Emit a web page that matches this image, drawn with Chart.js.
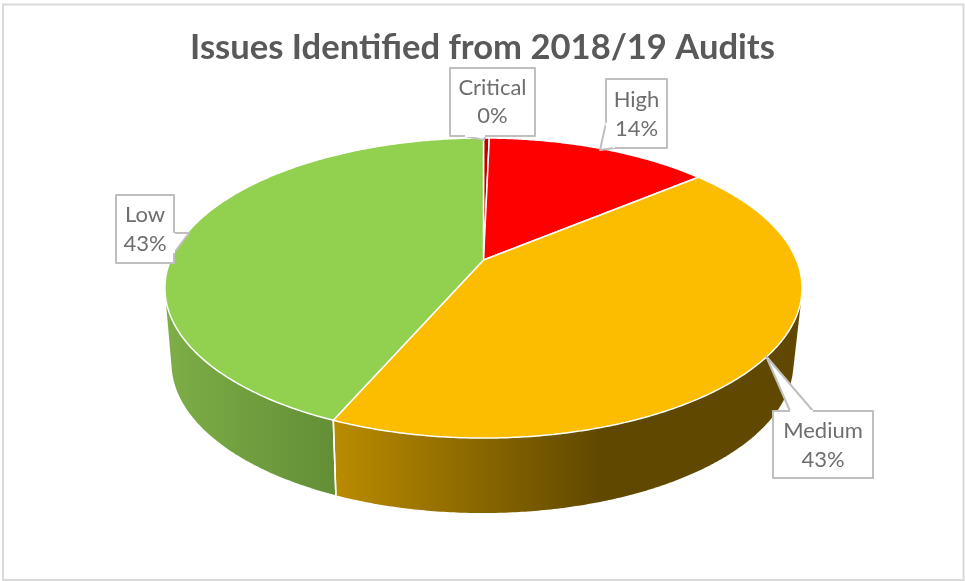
<!DOCTYPE html>
<html>
    <head>
        <title>Issues Identified from 2018/19 Audits</title>
        <meta http-equiv="Content-Type" content="text/html; charset=UTF-8">
        <script src="https://cdn.jsdelivr.net/npm/chart.js"></script>
        <style>
            html, body { margin: 0; padding: 0; background: #fff; }
            canvas { display: block; }
        </style>
    </head>
    <body>
        <canvas id="issuesPie" width="965" height="581"></canvas>

        <script>
            const chartTitle = 'Issues Identified from 2018/19 Audits';
            const categories = ['Critical', 'High', 'Medium', 'Low'];
            const shares = [0.35, 13.6, 42.56, 43.49];
            const sliceColors = ['#c00000', '#ff0000', '#fcbd00', '#92d050'];

            // Side wall shading, left to right, one per slice
            const wallStops = [
                [[0, '#7a0000'], [1, '#7a0000']],
                [[0, '#a00000'], [1, '#a00000']],
                [[337, '#b98b00'], [600, '#604800']],
                [[166, '#7dae47'], [337, '#638e36']]
            ];

            // Perspective disc: upper and lower face of the pie
            const tilt = 0.1867;
            const topFace = { cx: 483.5, cy: 260, rx: 313, ry: 144.8 };
            const bottomFace = { cx: 482.5, cy: 335, rx: 305.5, ry: 144.8 };

            // Callout boxes, same order as the categories
            const callouts = [
                { box: [450, 68, 85, 68], tail: [[485, 136], [484, 140], [465, 136]], lines: [88, 116] },
                { box: [606, 79, 61, 69], tail: [[606, 123], [600, 150], [614, 148]], lines: [100, 129] },
                { box: [773, 411, 100, 67], tail: [[813, 411], [766, 356], [790, 411]], lines: [431, 460] },
                { box: [116, 195, 58, 68], tail: [[174, 233], [189, 233], [174, 253]], lines: [215, 244] }
            ];

            function project(face, angle) {
                const w = 1 - tilt * Math.sin(angle);
                return {
                    x: face.cx + face.rx * Math.cos(angle) / w,
                    y: face.cy + face.ry * Math.sin(angle) / w
                };
            }

            // Andrew's monotone chain
            function convexHull(points) {
                const pts = points.slice().sort(function (a, b) { return a.x - b.x || a.y - b.y; });
                const cross = function (o, a, b) {
                    return (a.x - o.x) * (b.y - o.y) - (a.y - o.y) * (b.x - o.x);
                };
                const half = function (list) {
                    const out = [];
                    list.forEach(function (p) {
                        while (out.length >= 2 && cross(out[out.length - 2], out[out.length - 1], p) <= 0) {
                            out.pop();
                        }
                        out.push(p);
                    });
                    out.pop();
                    return out;
                };
                return half(pts).concat(half(pts.slice().reverse()));
            }

            function drawWall(ctx, arc, index) {
                const stops = wallStops[index];
                const grad = ctx.createLinearGradient(stops[0][0], 0, stops[1][0], 0);
                grad.addColorStop(0, stops[0][1]);
                grad.addColorStop(1, stops[1][1]);
                ctx.fillStyle = grad;

                // the outline of the swept wall; what falls inside the top face gets painted over
                const rim = [];
                const steps = Math.max(2, Math.ceil((arc.endAngle - arc.startAngle) / (Math.PI / 360)));
                for (let i = 0; i <= steps; i++) {
                    const a = arc.startAngle + (arc.endAngle - arc.startAngle) * i / steps;
                    rim.push(project(topFace, a));
                    rim.push(project(bottomFace, a));
                }
                ctx.beginPath();
                convexHull(rim).forEach(function (p, i) {
                    if (i === 0) {
                        ctx.moveTo(p.x, p.y);
                    } else {
                        ctx.lineTo(p.x, p.y);
                    }
                });
                ctx.closePath();
                ctx.fill();
            }

            function drawWallSeam(ctx, angle) {
                // only the seams on the front of the pie can be seen
                if (Math.sin(angle) <= 0) {
                    return;
                }
                const p = project(topFace, angle);
                const q = project(bottomFace, angle);
                ctx.strokeStyle = '#ffffff';
                ctx.lineWidth = 1.5;
                ctx.beginPath();
                ctx.moveTo(p.x, p.y);
                ctx.lineTo(q.x, q.y);
                ctx.stroke();
            }

            function drawSlice(ctx, arc, color) {
                ctx.beginPath();
                ctx.moveTo(topFace.cx, topFace.cy);
                const steps = Math.max(2, Math.ceil((arc.endAngle - arc.startAngle) / (Math.PI / 360)));
                for (let i = 0; i <= steps; i++) {
                    const a = arc.startAngle + (arc.endAngle - arc.startAngle) * i / steps;
                    const p = project(topFace, a);
                    ctx.lineTo(p.x, p.y);
                }
                ctx.closePath();
                ctx.fillStyle = color;
                ctx.fill();
                ctx.strokeStyle = '#ffffff';
                ctx.lineWidth = 1.5;
                ctx.lineJoin = 'round';
                ctx.stroke();
            }

            function drawCallout(ctx, callout, name, percent) {
                const [x, y, w, h] = callout.box;
                ctx.beginPath();
                ctx.rect(x, y, w, h);
                ctx.fillStyle = '#ffffff';
                ctx.fill();
                ctx.strokeStyle = '#bfbfbf';
                ctx.lineWidth = 2;
                ctx.stroke();

                // tail sits on top of the box edge, so it is opened with white
                ctx.beginPath();
                callout.tail.forEach(function (pt, i) {
                    if (i === 0) {
                        ctx.moveTo(pt[0], pt[1]);
                    } else {
                        ctx.lineTo(pt[0], pt[1]);
                    }
                });
                ctx.fillStyle = '#ffffff';
                ctx.fill();
                ctx.lineWidth = 2;
                ctx.stroke();
                const a = callout.tail[0];
                const b = callout.tail[2];
                ctx.beginPath();
                ctx.moveTo(a[0], a[1]);
                ctx.lineTo(b[0], b[1]);
                ctx.strokeStyle = '#ffffff';
                ctx.stroke();

                ctx.fillStyle = '#6e6e6e';
                ctx.font = '22px Lato';
                ctx.textAlign = 'center';
                ctx.textBaseline = 'middle';
                ctx.fillText(name, x + w / 2, callout.lines[0]);
                ctx.fillText(percent + '%', x + w / 2, callout.lines[1]);
            }

            const pie3d = {
                id: 'pie3d',
                beforeDraw(chart) {
                    const ctx = chart.ctx;
                    ctx.save();
                    ctx.strokeStyle = '#d9d9d9';
                    ctx.lineWidth = 2;
                    ctx.strokeRect(3, 4.5, 960.5, 575.5);
                    ctx.restore();
                },
                beforeDatasetsDraw(chart) {
                    // the arcs are laid out by Chart.js, only their painting is replaced
                    const ctx = chart.ctx;
                    const arcs = chart.getDatasetMeta(0).data;
                    const values = chart.data.datasets[0].data;
                    const colors = chart.data.datasets[0].backgroundColor;
                    const total = values.reduce(function (s, v) { return s + v; }, 0);

                    ctx.save();
                    // last slice first, so the wall to its right overlaps it cleanly
                    for (let i = arcs.length - 1; i >= 0; i--) {
                        drawWall(ctx, arcs[i], i);
                    }
                    arcs.forEach(function (arc) {
                        drawWallSeam(ctx, arc.startAngle);
                        drawWallSeam(ctx, arc.endAngle);
                    });
                    arcs.forEach(function (arc, i) { drawSlice(ctx, arc, colors[i]); });
                    arcs.forEach(function (arc, i) {
                        drawCallout(ctx, callouts[i], chart.data.labels[i], Math.round(values[i] / total * 100));
                    });
                    ctx.restore();
                    return false;
                }
            };

            new Chart(document.getElementById('issuesPie').getContext('2d'), {
                type: 'pie',
                data: {
                    labels: categories,
                    datasets: [
                        {
                            data: shares,
                            backgroundColor: sliceColors
                        }
                    ]
                },
                options: {
                    responsive: false,
                    animation: false,
                    plugins: {
                        legend: { display: false },
                        tooltip: { enabled: false },
                        title: {
                            display: true,
                            text: chartTitle,
                            color: '#595959',
                            font: { family: 'Lato', size: 34.6, weight: 'bold' },
                            padding: { top: 27, bottom: 10 }
                        }
                    }
                },
                plugins: [pie3d]
            });
        </script>
    </body>
</html>
